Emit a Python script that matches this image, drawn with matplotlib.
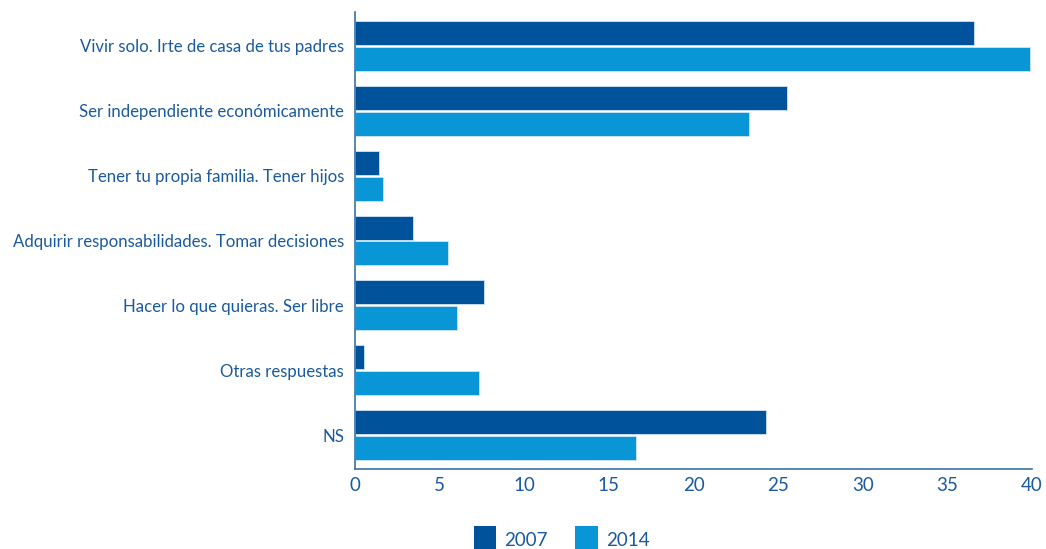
import matplotlib
matplotlib.use("Agg")
import matplotlib.pyplot as plt
import numpy as np
from matplotlib.patches import Patch

categories = [
    "Vivir solo. Irte de casa de tus padres",
    "Ser independiente económicamente",
    "Tener tu propia familia. Tener hijos",
    "Adquirir responsabilidades. Tomar decisiones",
    "Hacer lo que quieras. Ser libre",
    "Otras respuestas",
    "NS",
]
values_2007 = [36.6, 25.5, 1.4, 3.4, 7.6, 0.55, 24.3]
values_2014 = [39.9, 23.3, 1.65, 5.5, 6.0, 7.3, 16.6]
series_labels = ["2007", "2014"]
x_ticks = [0, 5, 10, 15, 20, 25, 30, 35, 40]

c2007 = "#00529b"
c2014 = "#0896d7"
txt = "#1a5a9e"

plt.rcParams['font.family'] = ['Lato', 'DejaVu Sans']

fig = plt.figure(figsize=(10.46, 5.49), dpi=100)
ax = fig.add_axes([355/1046, 1-469/549, (1032-355)/1046, (469-12)/549])

y = np.arange(len(categories))
h = 0.37
off = 0.2
ax.barh(y - off, values_2007, height=h, color=c2007, edgecolor="#d0e4f4", linewidth=0.6)
ax.barh(y + off, values_2014, height=h, color=c2014, edgecolor="#d0e4f4", linewidth=0.6)

ax.set_ylim(len(categories) - 0.48, -0.52)
ax.set_xlim(0, 40)
ax.set_xticks(x_ticks)
ax.set_xticklabels([str(t) for t in x_ticks], fontsize=13.5, color=txt)
ax.set_yticks(y)
ax.set_yticklabels(categories, fontsize=12.1, color=txt)
ax.tick_params(axis='both', length=0)
ax.tick_params(axis='x', pad=6)
ax.tick_params(axis='y', pad=8)
for s in ['top', 'right']:
    ax.spines[s].set_visible(False)
for s in ['left', 'bottom']:
    ax.spines[s].set_color("#3a6fa8")
    ax.spines[s].set_linewidth(1.2)

handles = [Patch(facecolor=c2007), Patch(facecolor=c2014)]
fig.legend(handles, series_labels, loc='center', bbox_to_anchor=(0.537, 0.016),
           ncol=2, frameon=False, fontsize=13.5, labelcolor=txt,
           handlelength=1.2, handleheight=2.0, columnspacing=1.45, handletextpad=0.45)

fig.savefig("out.png", dpi=100)
